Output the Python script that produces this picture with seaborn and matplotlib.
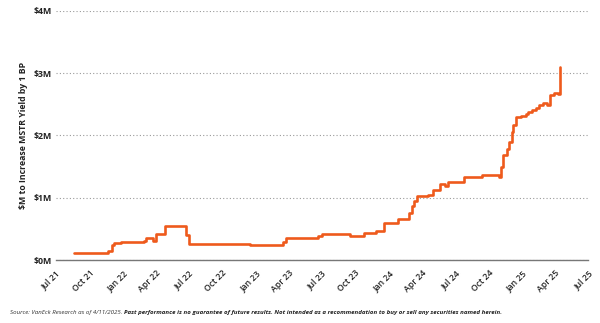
import matplotlib
matplotlib.use("Agg")
import matplotlib.pyplot as plt
import matplotlib.dates as mdates
import pandas as pd
import seaborn as sns

# Dollars (in $M) of MSTR purchases needed to lift BTC yield by 1 bp
dates = [
    "2021-08-19", "2021-11-22", "2021-12-01", "2021-12-07", "2021-12-26",
    "2022-02-28", "2022-03-06", "2022-03-25", "2022-04-01", "2022-04-28",
    "2022-06-24", "2022-07-01", "2022-09-22", "2022-12-16", "2023-03-16",
    "2023-03-24", "2023-06-21", "2023-07-02", "2023-09-18", "2023-10-25",
    "2023-11-26", "2023-12-19", "2024-01-26", "2024-02-25", "2024-03-04",
    "2024-03-10", "2024-03-19", "2024-04-17", "2024-05-01", "2024-05-20",
    "2024-06-03", "2024-06-12", "2024-07-25", "2024-09-14", "2024-10-29",
    "2024-11-03", "2024-11-10", "2024-11-20", "2024-11-26", "2024-12-03",
    "2024-12-08", "2024-12-14", "2024-12-28", "2025-01-11", "2025-01-18",
    "2025-01-29", "2025-02-07", "2025-02-16", "2025-02-27", "2025-03-11",
    "2025-03-20", "2025-03-29", "2025-04-08", "2025-04-10", "2025-04-14",
]
usd_millions = [
    0.12, 0.15, 0.24, 0.27, 0.29,
    0.305, 0.35, 0.31, 0.42, 0.55,
    0.40, 0.25, 0.26, 0.24, 0.29,
    0.36, 0.39, 0.41, 0.39, 0.43,
    0.46, 0.59, 0.66, 0.76, 0.86,
    0.95, 1.03, 1.05, 1.13, 1.215,
    1.19, 1.25, 1.33, 1.36, 1.34,
    1.50, 1.69, 1.79, 1.90, 2.06,
    2.17, 2.29, 2.32, 2.34, 2.38,
    2.41, 2.44, 2.49, 2.52, 2.49,
    2.65, 2.68, 2.69, 2.66, 3.10,
]
y_ticks = [0, 1, 2, 3, 4]
y_tick_labels = ["$0M", "$1M", "$2M", "$3M", "$4M"]
y_title = "$M to Increase MSTR Yield by 1 BP"
source_note = "Source: VanEck Research as of 4/11/2025. "
disclaimer = ("Past performance is no guarantee of future results. Not intended as a "
              "recommendation to buy or sell any securities named herein.")

df = pd.DataFrame({"date": pd.to_datetime(dates), "value": usd_millions})

sns.set_theme(style="white")
plt.rcParams["font.family"] = ["Open Sans", "DejaVu Sans"]

fig = plt.figure(figsize=(6.0, 3.23), dpi=100)
ax = fig.add_axes([0.093, 0.195, 0.887, 0.771])

sns.lineplot(data=df, x="date", y="value", ax=ax, color="#EE5A1C",
             linewidth=1.9, drawstyle="steps-post", estimator=None)

ax.set_xlim(pd.Timestamp("2021-07-01"), pd.Timestamp("2025-07-01"))
ax.set_ylim(0, 4)

ax.set_yticks(y_ticks)
ax.set_yticklabels(y_tick_labels, fontsize=6.3, fontweight="bold", color="#222222")
ax.yaxis.grid(True, linestyle=(0, (1, 2)), color="#9a9a9a", linewidth=0.8)
ax.xaxis.grid(False)
ax.set_axisbelow(True)

ax.xaxis.set_major_locator(mdates.MonthLocator(bymonth=[1, 4, 7, 10]))
ax.xaxis.set_major_formatter(mdates.DateFormatter("%b %y"))
for lbl in ax.get_xticklabels():
    lbl.set_rotation(45)
    lbl.set_ha("right")
    lbl.set_rotation_mode("anchor")
    lbl.set_fontsize(6.2)
    lbl.set_fontweight("semibold")
    lbl.set_color("#222222")
ax.tick_params(axis="both", length=0, pad=3)
ax.tick_params(axis="x", pad=6)

for side in ["top", "right", "left"]:
    ax.spines[side].set_visible(False)
ax.spines["bottom"].set_color("#777777")
ax.spines["bottom"].set_linewidth(1.0)

ax.set_xlabel("")
ax.set_ylabel(y_title, fontsize=6.3, fontweight="bold", color="#222222", labelpad=4)

t1 = fig.text(0.017, 0.028, source_note, fontsize=4.4, style="italic",
              color="#333333", va="baseline")
ax.annotate(disclaimer, xy=(1, 0), xycoords=t1, fontsize=4.4, style="italic",
            fontweight="bold", color="#222222", va="bottom", ha="left",
            annotation_clip=False)

fig.savefig("out.png", dpi=100)
